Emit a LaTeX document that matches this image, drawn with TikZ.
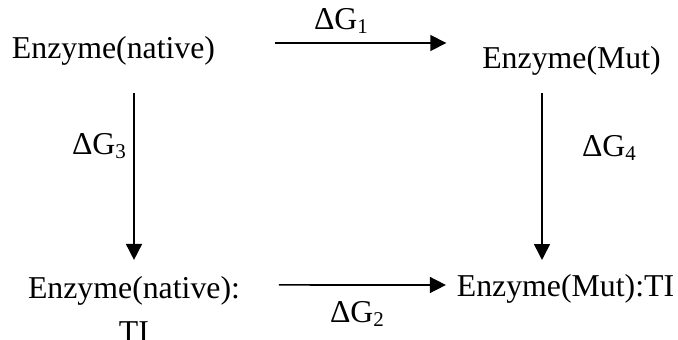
\documentclass[tikz,border=0pt]{standalone}
\usepackage{fontspec}
\setmainfont{Liberation Serif}
\usepackage{tikz}
\usetikzlibrary{arrows.meta}

\newcommand{\dG}[1]{ΔG\raisebox{-4pt}{\fontsize{21pt}{21pt}\selectfont #1}}

\begin{document}
\begin{tikzpicture}[
    x=1pt, y=-1pt,
    species/.style={inner sep=0pt, outer sep=0pt, anchor=base, align=center,
                    font=\fontsize{31.8pt}{44pt}\selectfont},
    lbl/.style={inner sep=0pt, outer sep=0pt, anchor=base,
                font=\fontsize{31.8pt}{38pt}\selectfont},
    arr/.style={-{Triangle[length=16pt, width=16pt]}, line width=1.6pt}
  ]
    \useasboundingbox (0,0) rectangle (678,340);
    \node[species] (native)   at (113.5,58) {Enzyme(native)};
    \node[species] (mut)      at (571.5,68) {Enzyme(Mut)};
    \node[species] (nativeTI) at (134,342)  {Enzyme(native):\\TI};
    \node[species] (mutTI)    at (565.5,296) {Enzyme(Mut):TI};
    % free energy labels
    \node[lbl] (dg1) at (341,29)  {\dG{1}};
    \node[lbl] (dg2) at (357,322) {\dG{2}};
    \node[lbl] (dg3) at (99,154)  {\dG{3}};
    \node[lbl] (dg4) at (609,156) {\dG{4}};
    % cycle
    \draw[arr] ([shift={(60pt,15pt)}]native.base east)
      -- ([shift={(-36pt,25pt)}]mut.base west);
    \draw[arr] ([shift={(39pt,-9pt)}]nativeTI.north east)
      -- ([shift={(-11pt,11pt)}]mutTI.base west);
    \draw[arr] ([shift={(20.5pt,-35pt)}]native.base)
      -- ([yshift=16pt]nativeTI.north);
    \draw[arr] ([shift={(-29.5pt,-25pt)}]mut.base)
      -- ([shift={(-23.5pt,36pt)}]mutTI.base);
  \end{tikzpicture}
\end{document}
